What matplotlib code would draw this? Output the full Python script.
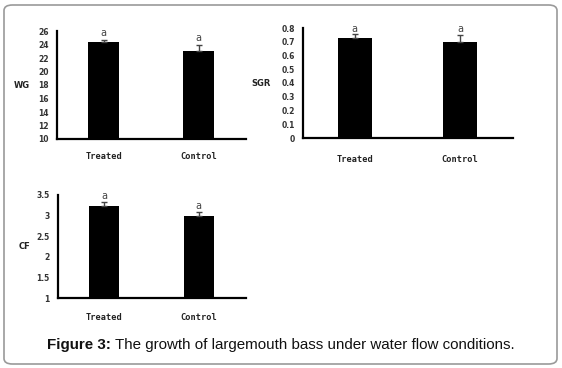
import matplotlib
matplotlib.use("Agg")
import matplotlib.pyplot as plt
from matplotlib.patches import FancyBboxPatch

groups = ["Treated", "Control"]
wg = [24.3, 23.1]
wg_err = [0.3, 0.8]
sgr = [0.73, 0.70]
sgr_err = [0.025, 0.05]
cf = [3.24, 2.98]
cf_err = [0.08, 0.10]
letters = ["a", "a"]
caption_bold = "Figure 3:"
caption_rest = " The growth of largemouth bass under water flow conditions."

W, H = 562, 368
fig = plt.figure(figsize=(W / 100, H / 100), dpi=100)

def px_axes(x0, y0, x1, y1):
    return fig.add_axes([x0 / W, 1 - y1 / H, (x1 - x0) / W, (y1 - y0) / H])

tickfont = dict(family="DejaVu Sans", weight="bold", size=5.5, color="#333333")

def panel(ax, vals, errs, ylim, yticks, ticklabels, ylabel, label_x, letter_pad, xpad=9):
    xs = list(range(len(groups)))
    ax.bar(xs, vals, width=0.32, color="black", zorder=2)
    ax.errorbar(xs, vals, yerr=[[0] * len(errs), errs], fmt="none",
                ecolor="#444444", elinewidth=1, capsize=2, capthick=1, zorder=3)
    for x, v, e, t in zip(xs, vals, errs, letters):
        ax.text(x, v + e + letter_pad, t, ha="center", va="bottom",
                fontsize=7, color="#444444", family="DejaVu Sans")
    ax.set_xlim(-0.49, 1.5)
    ax.set_ylim(*ylim)
    ax.set_yticks(yticks)
    ax.set_yticklabels(ticklabels, fontdict=tickfont)
    ax.set_xticks(xs)
    ax.set_xticklabels(groups, fontdict=dict(family="DejaVu Sans Mono", weight="bold", size=6.2, color="#222222"))
    ax.tick_params(axis="y", length=0, pad=6)
    ax.tick_params(axis="x", length=0, pad=xpad)
    for s in ["top", "right"]:
        ax.spines[s].set_visible(False)
    for s in ["left", "bottom"]:
        ax.spines[s].set_linewidth(1.6)
    ax.patch.set_alpha(0)
    ax.text(label_x, 0.5, ylabel, transform=ax.transAxes, ha="center", va="center",
            fontsize=6, weight="bold", family="DejaVu Sans", color="#222222")

ax1 = px_axes(57, 31, 246, 139)
panel(ax1, wg, wg_err, (10, 26), range(10, 27, 2), [str(v) for v in range(10, 27, 2)],
      "WG", -0.185, 0.3)

ax2 = px_axes(303, 28, 513, 138)
sv = [i / 10 for i in range(0, 9)]
panel(ax2, sgr, sgr_err, (0, 0.8), sv, ["0"] + [f"{v:.1f}" for v in sv[1:]],
      "SGR", -0.2, 0.005, xpad=12)

ax3 = px_axes(58, 195, 246, 298)
cv = [1, 1.5, 2, 2.5, 3, 3.5]
panel(ax3, cf, cf_err, (1, 3.5), cv, ["1", "1.5", "2", "2.5", "3", "3.5"],
      "CF", -0.18, 0.03, xpad=10.5)

fig.patches.append(FancyBboxPatch((4 / W, 4 / H), (W - 9) / W, (H - 9) / H,
                                  boxstyle="round,pad=0,rounding_size=0.015",
                                  transform=fig.transFigure, fill=False,
                                  edgecolor="#9a9a9a", linewidth=1.2))

# caption: bold part + regular part, centred together
cap_y = 1 - 345 / H
t1 = fig.text(0, cap_y, caption_bold, ha="left", va="center", fontsize=10.9,
              weight="bold", family="Liberation Sans", color="#111111")
t2 = fig.text(0, cap_y, caption_rest, ha="left", va="center", fontsize=10.9,
              family="Liberation Sans", color="#111111")
r = fig.canvas.get_renderer()
w1 = t1.get_window_extent(r).width
w2 = t2.get_window_extent(r).width
x0 = (W - (w1 + w2)) / 2
t1.set_x(x0 / W)
t2.set_x((x0 + w1) / W)

fig.savefig("out.png", dpi=100)
